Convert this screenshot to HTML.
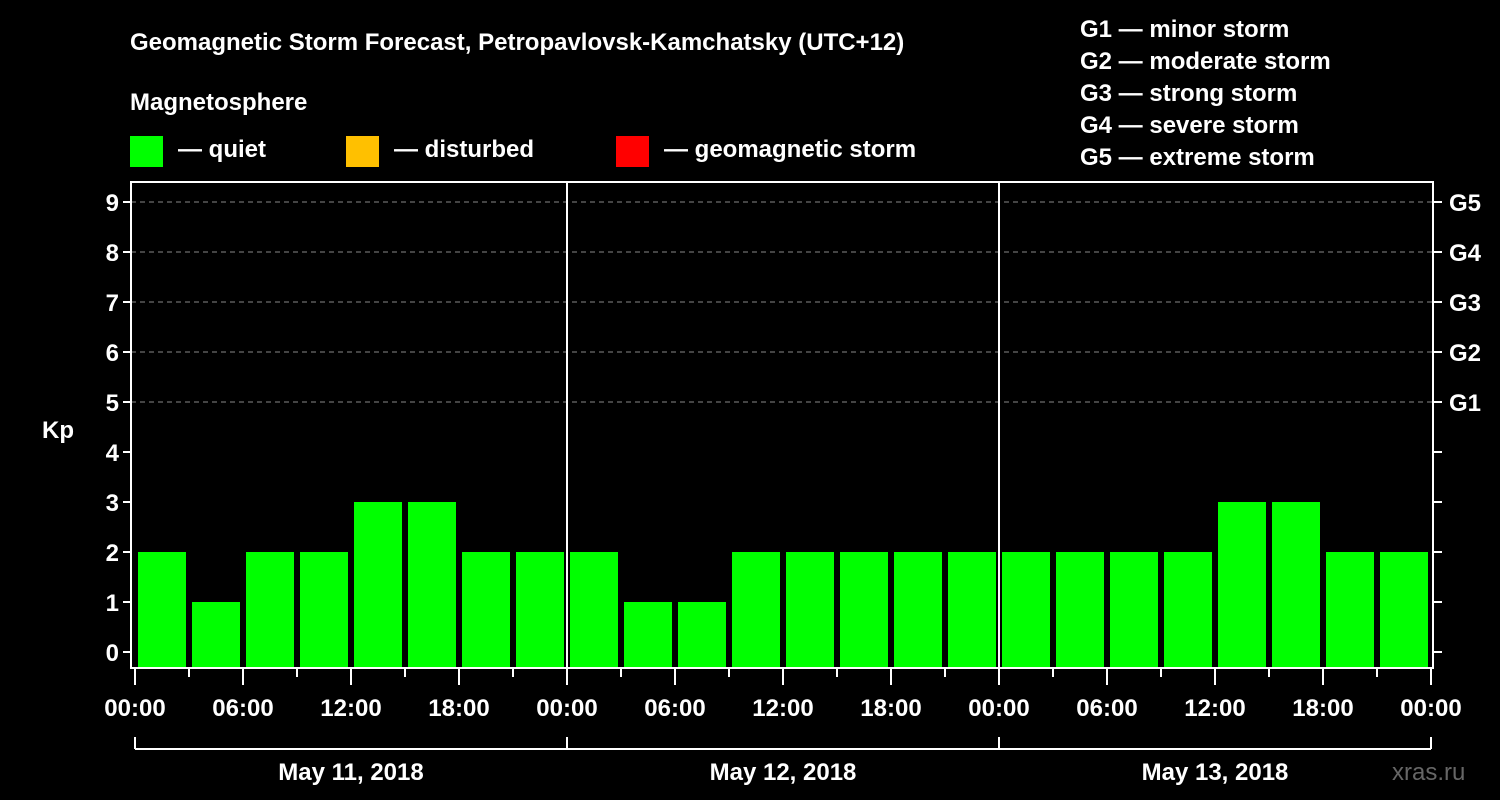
<!DOCTYPE html>
<html><head><meta charset="utf-8"><style>
html,body{margin:0;padding:0;background:#000;}
svg{display:block;font-family:"Liberation Sans",Arial,sans-serif;font-weight:bold;}
</style></head><body>
<svg width="1500" height="800" viewBox="0 0 1500 800" id="chart">
<text x="130" y="50" fill="#fff" font-size="24">Geomagnetic Storm Forecast, Petropavlovsk-Kamchatsky (UTC+12)</text>
<text x="130" y="110" fill="#fff" font-size="24">Magnetosphere</text>
<rect x="130" y="136" width="33" height="31" fill="#00ff00"/>
<text x="178" y="157" fill="#fff" font-size="24">— quiet</text>
<rect x="346" y="136" width="33" height="31" fill="#ffc000"/>
<text x="394" y="157" fill="#fff" font-size="24">— disturbed</text>
<rect x="616" y="136" width="33" height="31" fill="#ff0000"/>
<text x="664" y="157" fill="#fff" font-size="24">— geomagnetic storm</text>
<g fill="#fff" font-size="24">
<text x="1080" y="37">G1 — minor storm</text>
<text x="1080" y="69">G2 — moderate storm</text>
<text x="1080" y="101">G3 — strong storm</text>
<text x="1080" y="133">G4 — severe storm</text>
<text x="1080" y="165">G5 — extreme storm</text>
</g>
<text x="42" y="438" fill="#fff" font-size="24">Kp</text>
<text x="1392" y="780" fill="#666" font-size="24" font-weight="normal">xras.ru</text>
<g id="plot"></g>
</svg>
<script>
const kpValues = [2,1,2,2,3,3,2,2, 2,1,1,2,2,2,2,2, 2,2,2,2,3,3,2,2];
const yTicks = [0,1,2,3,4,5,6,7,8,9];
const gLabels = ["G1","G2","G3","G4","G5"];
const gLevels = [5,6,7,8,9];
const dayLabels = ["May 11, 2018","May 12, 2018","May 13, 2018"];
const hourLabels = ["00:00","06:00","12:00","18:00"];

const NS="http://www.w3.org/2000/svg";
const plot=document.getElementById('plot');
const L=131,R=1433,T=182,B=668,X0=135,slot=54;
const y=v=>652-v*50;
const x=i=>X0+i*slot;
function mk(tag,attrs){const e=document.createElementNS(NS,tag);for(const k in attrs)e.setAttribute(k,attrs[k]);plot.appendChild(e);return e;}

// gridlines
gLevels.forEach(v=>{
  const l=mk('line',{x1:L,x2:R,y1:y(v),y2:y(v),stroke:'#888','stroke-dasharray':'5,4','stroke-width':1});
  
  
});
// bars
kpValues.forEach((v,i)=>{
  const c=v>=5?'#ff0000':(v>=4?'#ffc000':'#00ff00');
  const r=mk('rect',{x:x(i)+3,y:y(v),width:48,height:B-y(v),fill:c});
  
  
});
// frame
const f=mk('rect',{x:L,y:T,width:R-L,height:B-T,fill:'none',stroke:'#fff','stroke-width':2});


// day separators
[1,2].forEach(d=>{
  const l=mk('line',{x1:x(d*8),x2:x(d*8),y1:T,y2:B,stroke:'#fff','stroke-width':2});
  
  
});
// y ticks
yTicks.forEach(v=>{
  mk('line',{x1:L-8,x2:L,y1:y(v),y2:y(v),stroke:'#fff','stroke-width':2});
  mk('line',{x1:R,x2:R+9,y1:y(v),y2:y(v),stroke:'#fff','stroke-width':2});
  const t=mk('text',{x:L-12,y:y(v)+9,fill:'#fff','font-size':24,'text-anchor':'end'});
  t.textContent=v;
  
  
});
gLabels.forEach((g,i)=>{
  const t=mk('text',{x:1449,y:y(gLevels[i])+9,fill:'#fff','font-size':24});
  t.textContent=g;
  
  
});
// x ticks
for(let i=0;i<=24;i++){
  const major=i%2===0;
  mk('line',{x1:x(i),x2:x(i),y1:B,y2:major?685:677,stroke:'#fff','stroke-width':2});
  if(major){
    const t=mk('text',{x:x(i),y:716,fill:'#fff','font-size':24,'text-anchor':'middle'});
    t.textContent=i===24?hourLabels[0]:hourLabels[(i/2)%4];
    
    
  }
}
// day brackets
mk('line',{x1:x(0),x2:x(24),y1:749,y2:749,stroke:'#fff','stroke-width':2});
for(let d=0;d<=3;d++) mk('line',{x1:x(d*8),x2:x(d*8),y1:737,y2:749,stroke:'#fff','stroke-width':2});
dayLabels.forEach((s,d)=>{
  const t=mk('text',{x:x(d*8+4),y:780,fill:'#fff','font-size':24,'text-anchor':'middle'});
  t.textContent=s;
  
  
});
</script>
</body></html>
